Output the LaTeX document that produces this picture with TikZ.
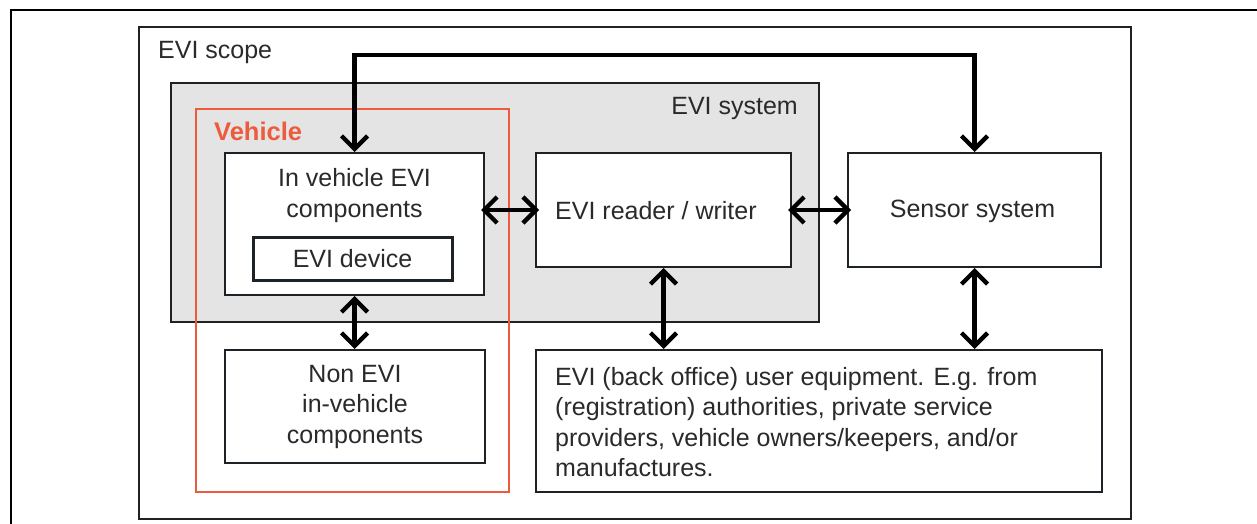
\documentclass[tikz,border=0pt]{standalone}
\usepackage{fontspec}
\setmainfont{Liberation Sans}
\usetikzlibrary{arrows.meta}
\definecolor{ink}{HTML}{1C2226}
\definecolor{txt}{HTML}{2A2A2A}
\definecolor{vred}{HTML}{EE5A3E}
\definecolor{sysgray}{HTML}{E4E4E4}
\tikzset{
  box/.style={draw=ink, line width=2pt, fill=white, inner sep=0pt, minimum width=#1},
  lbl/.style={text=txt, inner sep=0pt, font=\fontsize{25}{30.5}\selectfont},
  conn/.style={draw=black, line width=4.4pt, {Straight Barb[length=13pt,width=26pt,line width=4.4pt]}-{Straight Barb[length=13pt,width=26pt,line width=4.4pt]}},
}
\begin{document}
\begin{tikzpicture}[x=1pt,y=-1pt]
\useasboundingbox (0,0) rectangle (1257,524);
% outer frame (cropped)
\draw[line width=2pt, black] (11,524) -- (11,10) -- (1257,10);
% EVI scope
\node[box=992pt, line width=2.8pt, minimum height=492pt] (scope) at (635,273) {};
\node[lbl, anchor=west] (scopet) at (158,52) {EVI scope};
% EVI system
\node[box=648pt, line width=2.8pt, fill=sysgray, minimum height=239pt] (system) at (495,202.5) {};
\node[lbl, anchor=east] (systemt) at (798,108) {EVI system};
% Vehicle
\node[draw=vred, line width=2.6pt, inner sep=0pt, minimum width=313pt, minimum height=383pt] (vehicle) at (352.5,300.5) {};
\node[lbl, anchor=west, text=vred, font=\fontsize{25.5}{30.5}\selectfont\bfseries] (vehiclet) at (214,131) {Vehicle};
% In vehicle EVI components
\node[box=259pt, minimum height=142pt] (invehicle) at (354.5,224) {};
\node[lbl, align=center] (invehiclet) at (354.5,195.5) {In vehicle EVI\\components};
\node[box=199pt, line width=3pt, minimum height=43pt, lbl] (device) at (352.5,258.5) {EVI device};
% Non EVI
\node[box=260pt, minimum height=113pt, lbl, align=center] (nonevi) at (355,406.5) {Non EVI\\in-vehicle\\components};
% reader / writer
\node[box=255pt, minimum height=114pt] (reader) at (663.5,210) {};
\node[lbl, anchor=west] (readert) at (555,211) {EVI reader / writer};
% sensor
\node[box=253pt, minimum height=114pt] (sensor) at (974.5,210) {};
\node[lbl] (sensort) at (972.5,211) {Sensor system};
% back office
\node[box=566pt, minimum height=142pt] (back) at (819,421) {};
\node[lbl, anchor=west, align=left] (backt) at (555,422) {EVI (back office) user equipment. E.g. from\\(registration) authorities, private service\\providers, vehicle owners/keepers, and/or\\manufactures.};
% connectors
\coordinate (topy) at (0,55);
\draw[conn] (invehicle.north) -- (invehicle.north |- topy) -| (sensor.north);
\draw[conn, shorten <=-4pt, shorten >=-4pt] (invehicle.east |- reader.west) -- (reader.west);
\draw[conn, shorten <=-4pt, shorten >=-4pt] (reader.east) -- (sensor.west);
\draw[conn] (invehicle.south) -- (invehicle.south |- nonevi.north);
\draw[conn] (reader.south) -- (reader.south |- back.north);
\draw[conn] (sensor.south) -- (sensor.south |- back.north);
\end{tikzpicture}
\end{document}
